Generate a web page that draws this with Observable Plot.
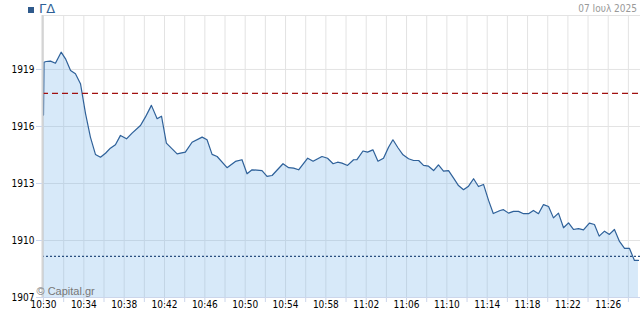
<!DOCTYPE html>
<html>
<head>
<meta charset="utf-8">
<script src="https://cdn.jsdelivr.net/npm/d3@7"></script>
<script src="https://cdn.jsdelivr.net/npm/@observablehq/plot@0.6"></script>
<style>
  html, body { margin: 0; padding: 0; background: #fff; }
  #wrap { position: relative; width: 640px; height: 313px; overflow: hidden; }
  #sq { position: absolute; left: 28px; top: 7px; width: 6px; height: 6px; background: #2f5a8c; }
  #title { position: absolute; left: 39px; top: 1px; font: 13px "DejaVu Sans", sans-serif; color: #2f5f96; }
  #date { position: absolute; right: 3px; top: 3px; font: 10px "DejaVu Sans Condensed", "DejaVu Sans", sans-serif; color: #999; }
  svg { position: absolute; left: 0; top: 0; }
</style>
</head>
<body>
<div id="wrap">
  <div id="sq"></div>
  <div id="title">ΓΔ</div>
  <div id="date">07 Ιουλ 2025</div>
</div>
<script>
const day = "2025-07-07";
const times = [
  "10:30:00","10:30:03","10:30:16","10:30:42","10:31:11","10:31:45","10:32:11","10:32:41","10:33:10","10:33:40",
  "10:34:10","10:34:39","10:35:09","10:35:39","10:36:09","10:36:38","10:37:08","10:37:38","10:38:14","10:38:47",
  "10:39:37","10:40:06","10:40:42","10:41:16","10:41:42","10:42:11","10:43:15","10:44:04","10:44:44","10:45:44",
  "10:46:13","10:46:43","10:47:13","10:48:12","10:49:02","10:49:41","10:50:11","10:50:41","10:51:40","10:52:10",
  "10:52:40","10:53:45","10:54:19","10:54:48","10:55:18","10:56:12","10:56:44","10:57:37","10:58:10","10:58:43",
  "10:59:10","10:59:36","11:00:09","11:00:45","11:01:05","11:01:41","11:02:08","11:02:40","11:03:10","11:03:43",
  "11:04:13","11:04:39","11:05:09","11:05:39","11:06:12","11:06:42","11:07:12","11:07:41","11:08:11","11:08:41",
  "11:09:10","11:09:40","11:10:10","11:10:40","11:11:09","11:11:39","11:12:09","11:12:39","11:13:08","11:13:38",
  "11:14:08","11:14:36","11:15:17","11:15:37","11:16:07","11:16:36","11:17:06","11:17:36","11:18:06","11:18:35",
  "11:19:05","11:19:35","11:20:05","11:20:34","11:21:04","11:21:34","11:22:04","11:22:33","11:23:03","11:23:33",
  "11:24:08","11:24:38","11:25:06","11:25:38","11:26:07","11:26:37","11:27:07","11:27:37","11:28:06","11:28:36",
  "11:29:00"
];
const prices = [
  1916.60,1919.38,1919.42,1919.44,1919.33,1919.91,1919.56,1918.95,1918.77,1918.25,
  1916.68,1915.44,1914.53,1914.38,1914.59,1914.86,1915.04,1915.53,1915.35,1915.65,
  1916.05,1916.49,1917.11,1916.41,1916.54,1915.12,1914.56,1914.65,1915.17,1915.44,
  1915.30,1914.53,1914.42,1913.83,1914.16,1914.25,1913.51,1913.72,1913.68,1913.37,
  1913.42,1914.04,1913.83,1913.81,1913.72,1914.33,1914.17,1914.42,1914.33,1914.04,
  1914.12,1914.07,1913.95,1914.25,1914.26,1914.71,1914.65,1914.77,1914.17,1914.33,
  1914.91,1915.30,1914.88,1914.51,1914.30,1914.21,1914.21,1913.95,1913.91,1913.68,
  1913.98,1913.65,1913.68,1913.28,1912.89,1912.67,1912.86,1913.25,1912.84,1912.95,
  1912.11,1911.42,1911.58,1911.62,1911.44,1911.53,1911.53,1911.41,1911.41,1911.58,
  1911.41,1911.89,1911.79,1911.19,1911.44,1910.67,1910.93,1910.58,1910.62,1910.56,
  1910.91,1910.84,1910.23,1910.49,1910.32,1910.58,1909.95,1909.59,1909.59,1908.95,
  1908.95
];
const yTicks = [1907, 1910, 1913, 1916, 1919];
const xTickLabels = ["10:30","10:34","10:38","10:42","10:46","10:50","10:54","10:58","11:02","11:06","11:10","11:14","11:18","11:22","11:26"];
const xGridTimes = ["10:30","10:32","10:34","10:36","10:38","10:40","10:42","10:44","10:46","10:48","10:50","10:52","10:54","10:56","10:58","11:00","11:02","11:04","11:06","11:08","11:10","11:12","11:14","11:16","11:18","11:20","11:22","11:24","11:26","11:28"];
const prevClose = 1917.74;
const lowLevel = 1909.16;
const yMin = 1907, yMax = 1921.84;
const xStart = "10:29:54", xEnd = "11:29:12";

const parse = s => new Date(`${day}T${s.length === 5 ? s + ":00" : s}`);
const data = times.map((t, i) => ({t: parse(t), v: prices[i]}));
const fontFam = '"DejaVu Sans Condensed", "DejaVu Sans", sans-serif';

const chart = Plot.plot({
  width: 640,
  height: 313,
  marginTop: 15,
  marginLeft: 42,
  marginRight: 0,
  marginBottom: 16,
  style: {fontFamily: fontFam, fontSize: "10px", color: "#000", background: "transparent", overflow: "visible"},
  x: {type: "time", domain: [parse(xStart), parse(xEnd)]},
  y: {domain: [yMin, yMax]},
  marks: [
    Plot.ruleX(xGridTimes.map(parse), {stroke: "#e3e3e3", strokeWidth: 1}),
    Plot.ruleY(yTicks.concat([yMax]), {stroke: "#e3e3e3", strokeWidth: 1}),
    Plot.areaY(data, {x: "t", y1: yMin, y2: "v", fill: "#7cb5ec", fillOpacity: 0.3, curve: "linear"}),
    Plot.lineY(data, {x: "t", y: "v", stroke: "#2f6199", strokeWidth: 1.2, curve: "linear"}),
    Plot.ruleY([prevClose], {stroke: "#a01010", strokeWidth: 1.2, strokeDasharray: "6,4"}),
    Plot.ruleY([lowLevel], {stroke: "#2a4f80", strokeWidth: 1.2, strokeDasharray: "2,2"}),
    Plot.ruleX([parse(xStart)], {stroke: "#d4d4d4", strokeWidth: 2}),
    Plot.ruleY([yMin], {stroke: "#ccd6eb", strokeWidth: 1}),
    Plot.axisY({ticks: yTicks, tickFormat: d => String(d), tickSize: 6, tickPadding: 2, stroke: "#ccd6eb", label: null, fill: "#000"}),
    Plot.axisX({ticks: xGridTimes.map(parse), tickFormat: null, text: null, tickSize: 5, stroke: "#ccd6eb", label: null}),
    Plot.axisX({ticks: xTickLabels.map(parse), tickFormat: d3.timeFormat("%H:%M"), tickSize: 0, tickPadding: 3, label: null, fill: "#000"}),
    Plot.text(["© Capital.gr"], {frameAnchor: "bottom-left", dx: -6, dy: -3, textAnchor: "start", fill: "#777", fontSize: 11, fontFamily: "Liberation Sans, Arial, sans-serif"})
  ]
});
document.getElementById("wrap").prepend(chart);
</script>
</body>
</html>
